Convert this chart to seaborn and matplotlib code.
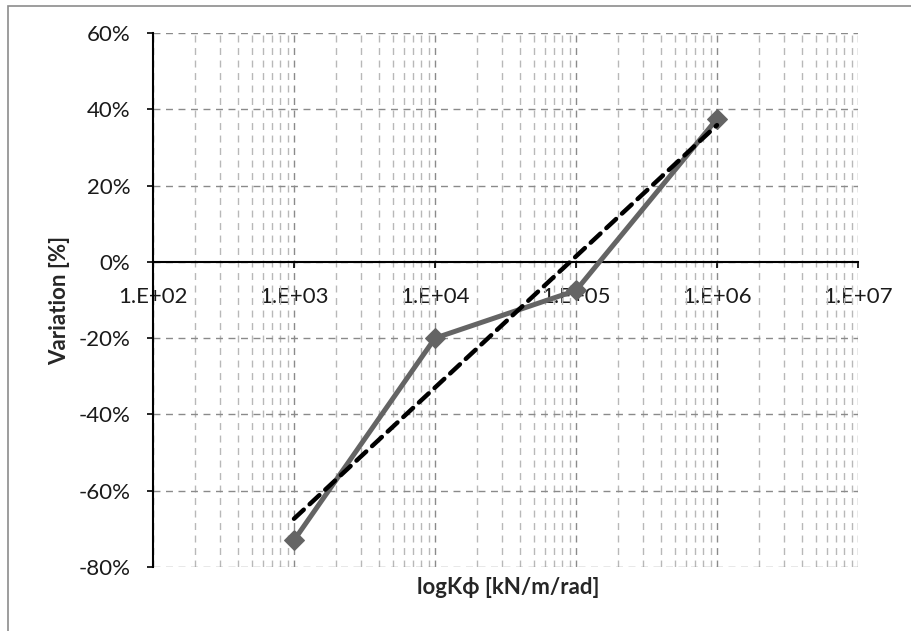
import numpy as np
import pandas as pd
import matplotlib
matplotlib.use("Agg")
import matplotlib.pyplot as plt
import matplotlib.ticker as mticker
from matplotlib.patches import Rectangle
import seaborn as sns

# Data
stiffness = [1e3, 1e4, 1e5, 1e6]          # K_phi [kN/m/rad]
variation = [-73.0, -20.0, -7.5, 37.5]     # variation [%]
y_ticks = [-80, -60, -40, -20, 0, 20, 40, 60]
x_decades = [1e2, 1e3, 1e4, 1e5, 1e6, 1e7]

sns.set_theme(style="white")
plt.rcParams['font.family'] = ['Lato', 'DejaVu Sans']

df = pd.DataFrame({"K": stiffness, "V": variation})

W, H = 911, 631
fig = plt.figure(figsize=(W/100, H/100), dpi=100)
x0, x1, y0, y1 = 153, 858, 33, 567
ax = fig.add_axes([x0/W, 1-y1/H, (x1-x0)/W, (y1-y0)/H])

# figure border
fig.patches.append(Rectangle((8/W, -0.05), 1.2, 1-6/H+0.05, transform=fig.transFigure,
                             fill=False, edgecolor="#8c8c8c", linewidth=1.2, zorder=0))

ax.set_xscale("log")
ax.set_xlim(x_decades[0], x_decades[-1])
ax.set_ylim(y_ticks[0], y_ticks[-1])

sns.lineplot(data=df, x="K", y="V", ax=ax, color="#646464", linewidth=3.6,
             marker="D", markersize=10, markeredgecolor="#646464", zorder=4)
sns.regplot(data=df, x="K", y="V", ax=ax, logx=True, ci=None, scatter=False,
            line_kws=dict(color="black", linewidth=3.2, linestyle=(0, (3, 1.8)),
                          dash_capstyle="round", zorder=5))

# grid
ax.set_xticks(x_decades)
ax.xaxis.set_minor_locator(mticker.LogLocator(base=10, subs=np.arange(2, 10), numticks=20))
ax.xaxis.set_minor_formatter(mticker.NullFormatter())
ax.set_yticks(y_ticks)
ax.grid(True, which="major", axis="both", color="#8a8a8a", linestyle=(0, (5, 4)), linewidth=1.0)
ax.grid(True, which="minor", axis="x", color="#b8b8b8", linestyle=(0, (5, 4)), linewidth=1.0)
ax.set_axisbelow(True)

ax.xaxis.set_major_formatter(mticker.FuncFormatter(lambda v, p: f"1.E+{int(round(np.log10(v))):02d}"))
ax.yaxis.set_major_formatter(mticker.FuncFormatter(lambda v, p: f"{int(v)}%"))

for s in ["top", "right"]:
    ax.spines[s].set_visible(False)
ax.spines["bottom"].set_position(("data", 0))
ax.spines["bottom"].set_color("black")
ax.spines["bottom"].set_linewidth(1.5)
ax.spines["left"].set_color("black")
ax.spines["left"].set_linewidth(1.5)
ax.spines["bottom"].set_zorder(3)

FS = 16
ax.tick_params(axis="y", which="major", direction="out", length=4.3, width=1.2, color="black",
               labelsize=FS, pad=12, left=True, labelcolor="#1a1a1a")
ax.tick_params(axis="x", which="major", direction="out", length=4, width=1.2, color="black",
               labelsize=FS, pad=14, bottom=True, labelcolor="#1a1a1a")
ax.tick_params(axis="x", which="minor", bottom=False)

ax.set_xlabel("logKϕ [kN/m/rad]", fontsize=FS, fontweight="bold")
ax.xaxis.set_label_coords((508-x0)/(x1-x0), -(588-y1)/(y1-y0))
ax.xaxis.label.set_va("center")
ax.set_ylabel("Variation [%]", fontsize=FS, fontweight="bold")
ax.yaxis.set_label_coords(-(x0-60)/(x1-x0), 0.5)
ax.yaxis.label.set_va("center")

fig.savefig("out.png", dpi=100)
